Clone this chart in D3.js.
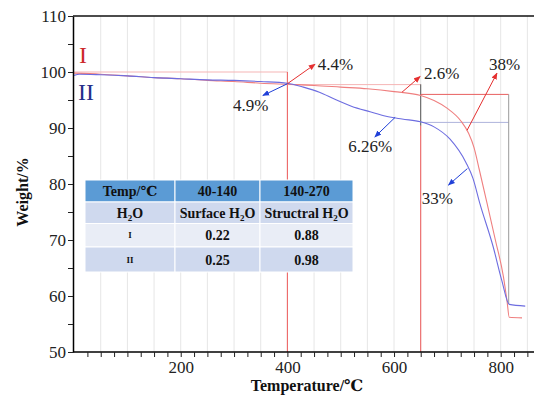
<!DOCTYPE html>
<html>
<head>
<meta charset="utf-8">
<script src="https://cdn.jsdelivr.net/npm/d3@7"></script>
<style>
  body { margin: 0; background: #fff; }
  svg text { font-family: "Liberation Serif", "DejaVu Serif", serif; }
</style>
</head>
<body>
<svg id="chart"></svg>
<script>
// TGA data
const tempI = [0, 50, 100, 150, 200, 250, 300, 350, 400, 450, 500, 550, 600, 650, 675, 700, 725, 740, 750, 760, 775, 790, 805, 812, 816, 840];
const weightI = [99.8, 99.6, 99.3, 99.0, 98.8, 98.5, 98.3, 98.0, 97.8, 97.6, 97.3, 97.0, 96.5, 95.8, 94.9, 93.5, 91.3, 89.0, 86.5, 82.5, 76.3, 70.0, 63.5, 59.0, 56.2, 56.1];

const tempII = [0, 10, 50, 100, 150, 200, 250, 300, 350, 400, 430, 460, 490, 520, 555, 585, 615, 650, 675, 705, 735, 748, 761, 786, 802, 816, 846];
const weightII = [99.4, 99.6, 99.5, 99.3, 99.0, 98.8, 98.6, 98.5, 98.3, 98.0, 97.3, 96.4, 95.1, 93.9, 92.9, 92.1, 91.6, 91.1, 90.2, 88.0, 83.8, 81.0, 76.5, 68.75, 62.8, 58.5, 58.2];

// guide lines [x1, y1, x2, y2, colour]
const guides = [
  [0, 100, 400, 100, "#f5b5b5"],
  [400, 100, 400, 50, "#ee5a5a"],
  [400, 97.75, 650, 97.75, "#f5b5b5"],
  [650, 97.8, 650, 90.4, "#555"],
  [650, 90.4, 650, 50, "#ee5a5a"],
  [650, 96, 815, 96, "#e86060"],
  [650, 91, 815, 91, "#aeb3dc"],
  [815, 96, 815, 58.6, "#999"]
];

// arrows [x1, y1, x2, y2, colour]
const arrows = [
  [400, 97.9, 452, 101.4, "#e53030"],
  [400, 97.9, 354, 95.8, "#2040d8"],
  [615, 96.4, 649, 99.2, "#e53030"],
  [737, 89.6, 793, 99.8, "#e53030"],
  [602, 91.9, 564, 88.4, "#2040d8"],
  [737.5, 82.75, 702, 79.8, "#2040d8"]
];

const labelText = ["4.4%", "4.9%", "2.6%", "38%", "6.26%", "33%"];
const labelX = [457, 298, 656, 778, 514, 652];
const labelY = [100.3, 93.0, 98.7, 100.3, 85.7, 76.5];

const tableHeader = ["Temp/℃", "40-140", "140-270"];
const tableRows = [
  [["H", "2", "O"], ["Surface H", "2", "O"], ["Structral H", "2", "O"]],
  [["I"], ["0.22"], ["0.88"]],
  [["II"], ["0.25"], ["0.98"]]
];

const serif = "'Liberation Serif', 'DejaVu Serif', serif";
const W = 534, H = 407;
const svg = d3.select("#chart").attr("width", W).attr("height", H);
svg.append("rect").attr("width", W).attr("height", H).attr("fill", "#fff");

const x = d3.scaleLinear().domain([-2, 875]).range([73, 540.7]);
const y = d3.scaleLinear().domain([50, 110]).range([352, 16]);

// vertical grid
svg.append("g")
  .selectAll("line")
  .data(d3.range(50, 875, 50))
  .enter()
  .append("line")
  .attr("x1", d => x(d)).attr("x2", d => x(d))
  .attr("y1", y(110)).attr("y2", y(50))
  .attr("stroke", "#e6e6e6")
  .attr("stroke-width", 1);

// guide lines
svg.append("g")
  .selectAll("line")
  .data(guides)
  .enter()
  .append("line")
  .attr("x1", d => x(d[0])).attr("y1", d => y(d[1]))
  .attr("x2", d => x(d[2])).attr("y2", d => y(d[3]))
  .attr("stroke", d => d[4])
  .attr("stroke-width", 1);

// curves
const line = d3.line().x(d => x(d[0])).y(d => y(d[1])).curve(d3.curveMonotoneX);
svg.append("path")
  .attr("d", line(d3.zip(tempI, weightI)))
  .attr("fill", "none").attr("stroke", "#ef7f7f").attr("stroke-width", 1.1);
svg.append("path")
  .attr("d", line(d3.zip(tempII, weightII)))
  .attr("fill", "none").attr("stroke", "#6d6de0").attr("stroke-width", 1.1);

// arrow heads
const defs = svg.append("defs");
["#e53030", "#2040d8"].forEach((c, i) => {
  defs.append("marker")
    .attr("id", "ah" + i)
    .attr("viewBox", "0 0 10 10")
    .attr("refX", 9).attr("refY", 5)
    .attr("markerWidth", 7).attr("markerHeight", 7)
    .attr("markerUnits", "userSpaceOnUse")
    .attr("orient", "auto")
    .append("path")
    .attr("d", "M0,1 L10,5 L0,9 Z")
    .attr("fill", c);
});

svg.append("g")
  .selectAll("line")
  .data(arrows)
  .enter()
  .append("line")
  .attr("x1", d => x(d[0])).attr("y1", d => y(d[1]))
  .attr("x2", d => x(d[2])).attr("y2", d => y(d[3]))
  .attr("stroke", d => d[4])
  .attr("stroke-width", 1)
  .attr("marker-end", d => d[4] === "#e53030" ? "url(#ah0)" : "url(#ah1)");

svg.append("g")
  .selectAll("text")
  .data(labelText)
  .enter()
  .append("text")
  .attr("x", (d, i) => x(labelX[i]))
  .attr("y", (d, i) => y(labelY[i]))
  .attr("font-family", serif)
  .attr("font-size", 17)
  .attr("fill", "#222")
  .text(d => d);

// series labels
svg.append("text").attr("x", 79).attr("y", 63).attr("font-size", 24)
  .attr("font-family", serif).attr("fill", "#cc2a2a").text("I");
svg.append("text").attr("x", 78).attr("y", 100).attr("font-size", 24)
  .attr("font-family", serif).attr("fill", "#24308a").text("II");

// table
const tX = 85, tY = 180;
const colW = [90, 85, 93];
const rowH = [22, 21.5, 23.5, 25];
const rowFill = ["#5b9bd5", "#cfd9ee", "#e9edf6", "#cfd9ee"];
const colX = [tX, tX + colW[0], tX + colW[0] + colW[1]];
const rowY = [tY];
rowH.forEach((h, i) => rowY.push(rowY[i] + h));

const table = svg.append("g");
rowH.forEach((h, r) => {
  colW.forEach((w, c) => {
    table.append("rect")
      .attr("x", colX[c]).attr("y", rowY[r])
      .attr("width", w).attr("height", h)
      .attr("fill", rowFill[r])
      .attr("stroke", "#fff").attr("stroke-width", 1);
  });
});

tableHeader.forEach((t, c) => {
  table.append("text")
    .attr("x", colX[c] + colW[c] / 2)
    .attr("y", rowY[0] + rowH[0] / 2 + 5)
    .attr("text-anchor", "middle")
    .attr("font-family", serif)
    .attr("font-size", 14).attr("font-weight", "bold").attr("fill", "#111")
    .text(t);
});

tableRows.forEach((row, r) => {
  row.forEach((parts, c) => {
    const small = r > 0 && c === 0;
    const t = table.append("text")
      .attr("x", colX[c] + colW[c] / 2)
      .attr("y", rowY[r + 1] + rowH[r + 1] / 2 + (small ? 3 : 5))
      .attr("text-anchor", "middle")
      .attr("font-family", serif)
      .attr("font-size", small ? 9 : 14)
      .attr("font-weight", "bold").attr("fill", "#111");
    parts.forEach((p, k) => {
      const ts = t.append("tspan").text(p);
      if (parts.length === 3 && k === 1) ts.attr("font-size", 9).attr("dy", 3);
      if (parts.length === 3 && k === 2) ts.attr("dy", -3);
    });
  });
});

// axes
const xAxis = d3.axisBottom(x)
  .tickValues(d3.range(25, 875, 25))
  .tickFormat(d => (d % 200 === 0 ? d : ""))
  .tickSize(5).tickSizeOuter(0).tickPadding(4);
const gx = svg.append("g").attr("transform", "translate(0," + y(50) + ")").call(xAxis);
gx.attr("font-family", serif);
gx.select(".domain").attr("stroke-width", 1.5).attr("d", "M73,0H534");
gx.selectAll("text").attr("font-size", 17).attr("fill", "#222");
gx.selectAll(".tick line").attr("stroke", "#222");

const yAxis = d3.axisLeft(y)
  .tickValues(d3.range(50, 111, 5))
  .tickFormat(d => (d % 10 === 0 ? d : ""))
  .tickSize(5).tickSizeOuter(0).tickPadding(2);
const gy = svg.append("g").attr("transform", "translate(73,0)").call(yAxis);
gy.attr("font-family", serif);
gy.select(".domain").attr("stroke-width", 1.5);
gy.selectAll("text").attr("font-size", 17).attr("fill", "#222");
gy.selectAll(".tick line").attr("stroke", "#222");

// top frame
svg.append("line")
  .attr("x1", 73).attr("x2", 534)
  .attr("y1", y(110)).attr("y2", y(110))
  .attr("stroke", "#111").attr("stroke-width", 1.5);

// axis titles
svg.append("text")
  .attr("x", 307).attr("y", 391)
  .attr("text-anchor", "middle")
  .attr("font-family", serif)
  .attr("font-size", 16).attr("font-weight", "bold").attr("fill", "#111")
  .text("Temperature/℃");
svg.append("text")
  .attr("transform", "translate(28,192) rotate(-90)")
  .attr("text-anchor", "middle")
  .attr("font-family", serif)
  .attr("font-size", 16).attr("font-weight", "bold").attr("fill", "#111")
  .text("Weight/%");
</script>
</body>
</html>
